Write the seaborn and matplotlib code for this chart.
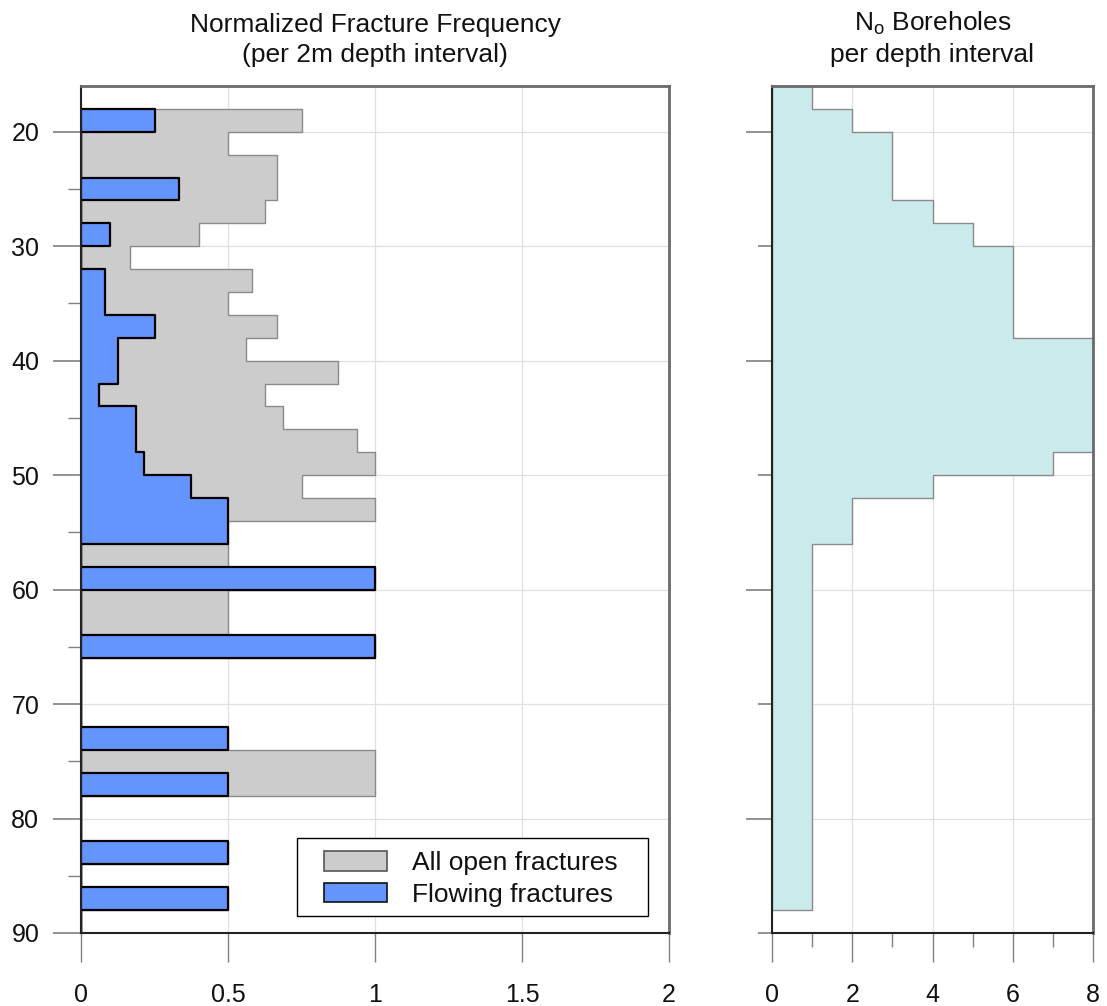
import numpy as np
import pandas as pd
import matplotlib
matplotlib.use("Agg")
import matplotlib.pyplot as plt
from matplotlib.patches import Patch, Rectangle
from matplotlib.ticker import MultipleLocator
from matplotlib.transforms import IdentityTransform
import seaborn as sns

# ---------------- data ----------------
# 2 m depth intervals (top of interval, m) for the fracture panel
frac_depth_top = [18, 20, 22, 24, 26, 28, 30, 32, 34, 36, 38, 40, 42, 44, 46, 48, 50, 52,
                  54, 56, 58, 60, 62, 64, 66, 68, 70, 72, 74, 76, 78, 80, 82, 84, 86, 88]
all_open = [0.75, 0.5, 0.667, 0.667, 0.625, 0.4, 0.167, 0.583, 0.5, 0.667, 0.5625, 0.875,
            0.625, 0.6875, 0.9375, 1.0, 0.75, 1.0, 0.5, 0.5, 1.0, 0.5, 0.5, 1.0,
            0.0, 0.0, 0.0, 0.5, 1.0, 1.0, 0.0, 0.0, 0.5, 0.0, 0.5, 0.0]
flowing = [0.25, 0.0, 0.0, 0.333, 0.0, 0.1, 0.0, 0.083, 0.083, 0.25, 0.125, 0.125,
           0.0625, 0.1875, 0.1875, 0.214, 0.375, 0.5, 0.5, 0.0, 1.0, 0.0, 0.0, 1.0,
           0.0, 0.0, 0.0, 0.5, 0.0, 0.5, 0.0, 0.0, 0.5, 0.0, 0.5, 0.0]

# boreholes per depth interval
bh_depth_top = [16, 18, 20, 22, 24, 26, 28, 30, 32, 34, 36, 38, 40, 42, 44, 46, 48, 50, 52, 54,
                56, 58, 60, 62, 64, 66, 68, 70, 72, 74, 76, 78, 80, 82, 84, 86]
n_boreholes = [1, 2, 3, 3, 3, 4, 5, 6, 6, 6, 6, 8, 8, 8, 8, 8, 7, 4, 2, 2,
               1, 1, 1, 1, 1, 1, 1, 1, 1, 1, 1, 1, 1, 1, 1, 1]

titles = ["Normalized Fracture Frequency\n(per 2m depth interval)",
          "N$_\\mathregular{o}$ Boreholes\nper depth interval"]
legend_labels = ["All open fractures", "Flowing fractures"]
left_xticks = [0, 0.5, 1, 1.5, 2]
left_xticklabels = ["0", "0.5", "1", "1.5", "2"]
right_xticks = [0, 2, 4, 6, 8]

bin_w = 2
frac_df = pd.DataFrame({"depth": np.array(frac_depth_top, dtype=float) + bin_w / 2,
                        "all_open": all_open, "flowing": flowing})
bh_df = pd.DataFrame({"depth": np.array(bh_depth_top, dtype=float) + bin_w / 2,
                      "n": n_boreholes})
frac_range = (frac_depth_top[0], frac_depth_top[-1] + bin_w)
bh_range = (bh_depth_top[0], bh_depth_top[-1] + bin_w)

# ---------------- style ----------------
sns.set_theme(style="white")
plt.rcParams["font.family"] = ["Liberation Sans", "DejaVu Sans"]
plt.rcParams["mathtext.fontset"] = "custom"
plt.rcParams["mathtext.rm"] = "Liberation Sans"
plt.rcParams["text.color"] = "#111111"

GRAY_FILL = "#cccccc"
GRAY_EDGE = "#8a8a8a"
BLUE = "#6495ff"
CYAN = "#cbeaec"
TICK_C = "#808080"

W, H = 1107, 1006
fig = plt.figure(figsize=(W / 100, H / 100), dpi=100)
ax1 = fig.add_axes([81 / W, 1 - 933 / H, (669 - 81) / W, (933 - 86) / H])
ax2 = fig.add_axes([772 / W, 1 - 933 / H, (1093 - 772) / W, (933 - 86) / H])

# left panel
sns.histplot(data=frac_df, y="depth", weights="all_open", binwidth=bin_w,
             binrange=frac_range, element="step", fill=True, color=GRAY_FILL,
             alpha=1, edgecolor=GRAY_EDGE, linewidth=1.0, ax=ax1, zorder=2)
sns.histplot(data=frac_df, y="depth", weights="flowing", binwidth=bin_w,
             binrange=frac_range, element="step", fill=True, color=BLUE,
             alpha=1, edgecolor="black", linewidth=1.6, ax=ax1, zorder=3)

# right panel
sns.histplot(data=bh_df, y="depth", weights="n", binwidth=bin_w,
             binrange=bh_range, element="step", fill=True, color=CYAN,
             alpha=1, edgecolor=GRAY_EDGE, linewidth=1.0, ax=ax2, zorder=2)

for ax in (ax1, ax2):
    ax.set_ylim(90, 16)
    ax.set_xlabel("")
    ax.set_ylabel("")
    ax.set_axisbelow(True)
    ax.grid(True, which="major", color="#e0e0e0", linewidth=0.9)
    ax.spines["left"].set_color("#222222")
    ax.spines["bottom"].set_color("#222222")
    ax.spines["left"].set_linewidth(1.5)
    ax.spines["bottom"].set_linewidth(1.5)
    ax.spines["top"].set_color("#6a6a6a")
    ax.spines["right"].set_color("#6a6a6a")
    ax.spines["top"].set_linewidth(2)
    ax.spines["right"].set_linewidth(2)
    for s in ax.spines.values():
        s.set_zorder(5)

ax1.set_xlim(0, 2)
ax1.set_xticks(left_xticks)
ax1.set_xticklabels(left_xticklabels)
ax1.yaxis.set_major_locator(MultipleLocator(10))
ax1.yaxis.set_minor_locator(MultipleLocator(5))
ax1.tick_params(axis="y", which="major", direction="out", length=20, width=1.2,
                color=TICK_C, labelsize=18, labelcolor="#111111", pad=10, left=True)
ax1.tick_params(axis="y", which="minor", direction="out", length=9.5, width=1.0,
                color=TICK_C, left=True)
ax1.tick_params(axis="x", which="major", direction="out", length=21, width=1.0,
                color=TICK_C, labelsize=18, labelcolor="#111111", pad=15, bottom=True)

ax2.set_xlim(0, 8)
ax2.set_xticks(right_xticks)
ax2.xaxis.set_minor_locator(MultipleLocator(1))
ax2.yaxis.set_major_locator(MultipleLocator(10))
ax2.tick_params(axis="y", which="major", direction="out", length=19, width=1.2,
                color=TICK_C, labelleft=False, left=True)
ax2.tick_params(axis="x", which="major", direction="out", length=21, width=1.0,
                color=TICK_C, labelsize=18, labelcolor="#111111", pad=15, bottom=True)
ax2.tick_params(axis="x", which="minor", direction="out", length=10, width=1.0,
                color=TICK_C, bottom=True)
# alternate y tick lengths on the right panel (long at 20,40,..., short at 30,50,...)
for t in ax2.yaxis.get_major_ticks():
    if int(round(t.get_loc())) % 20 != 0:
        t.tick1line.set_markersize(10)

ax1.set_title(titles[0], fontsize=19, pad=17, linespacing=1.32, color="#111111")
ax2.set_title(titles[1], fontsize=19, pad=17, linespacing=1.32, color="#111111")

handles = [Patch(facecolor=GRAY_FILL, edgecolor="#555555", linewidth=1.2),
           Patch(facecolor=BLUE, edgecolor="#111111", linewidth=1.2)]
# legend content; its frame is drawn with extra horizontal padding below
leg = ax1.legend(handles, legend_labels, loc="lower right",
                 bbox_to_anchor=(618 / W, 1 - 907 / H), bbox_transform=fig.transFigure,
                 borderaxespad=0, borderpad=0, fontsize=19, frameon=False,
                 handlelength=2.4, handleheight=0.75, handletextpad=0.95,
                 labelspacing=0.3)
leg.set_zorder(10)
fig.canvas.draw()
bb = leg.get_window_extent()
pad_l, pad_r, pad_t, pad_b = 27, 30, 13, 9
frame = Rectangle((bb.x0 - pad_l, bb.y0 - pad_b), bb.width + pad_l + pad_r,
                  bb.height + pad_t + pad_b, transform=IdentityTransform(),
                  facecolor="white", edgecolor="black", linewidth=1.0,
                  zorder=9, clip_on=False)
ax1.add_artist(frame)

fig.savefig("out.png", dpi=100, facecolor="white")
